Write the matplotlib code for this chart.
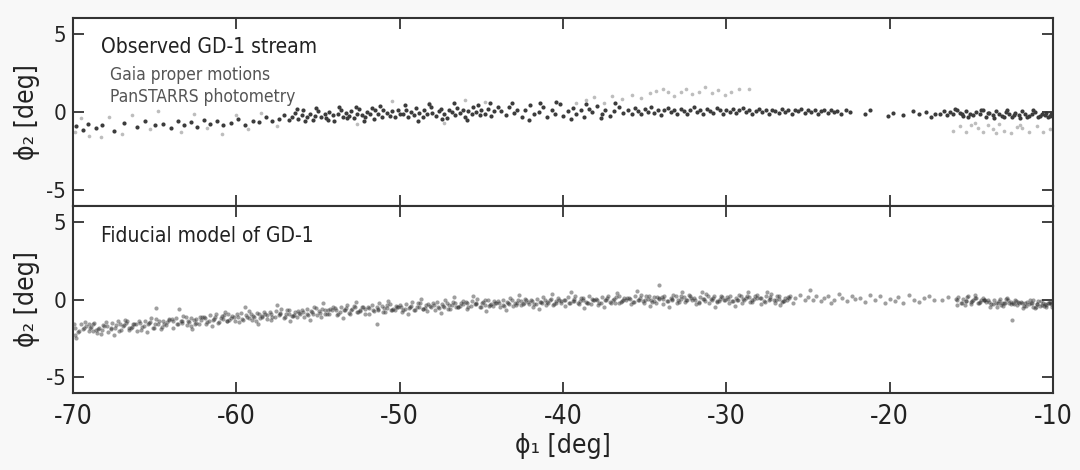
import matplotlib
matplotlib.use("Agg")
import matplotlib.pyplot as plt
import numpy as np

plt.rcParams["font.family"] = ["DejaVu Sans"]
plt.rcParams["font.stretch"] = "condensed"
plt.rcParams["axes.unicode_minus"] = False

# Observed stream, members (dark points)
obs_phi1 = [
    -69.8, -69.4, -69.1, -68.6, -68.2, -67.5, -66.9, -66.1, -65.6, -65.0,
    -64.5, -64.0, -63.6, -63.2, -62.8, -62.4, -62.0, -61.6, -61.2, -60.8,
    -60.3, -59.9, -59.5, -59.0, -58.6, -58.2, -57.8, -57.4, -57.1, -56.8,
    -56.6, -56.4, -56.2, -56.0, -55.9, -55.7, -55.5, -55.3, -55.2, -55.0,
    -54.8, -54.6, -54.5, -54.3, -54.1, -54.0, -53.8, -53.6, -53.5, -53.3,
    -53.1, -53.0, -52.8, -52.6, -52.5, -52.3, -52.1, -52.0, -51.8, -51.6,
    -51.5, -51.3, -51.1, -51.0, -50.8, -50.6, -50.5, -50.3, -50.1, -50.0,
    -56.3, -55.8, -55.1, -54.4, -53.7, -53.2, -52.7, -52.2, -51.7, -51.2,
    -49.8, -49.6, -49.5, -49.3, -49.1, -49.0, -48.8, -48.6, -48.5, -48.3,
    -48.1, -48.0, -47.8, -47.6, -47.5, -47.3, -47.1, -47.0, -46.8, -46.6,
    -46.5, -46.3, -46.1, -46.0, -45.8, -45.6, -45.5, -45.3, -45.1, -45.0,
    -44.8, -44.6, -44.4, -44.2, -44.0, -49.7, -48.9, -48.2, -47.4, -46.7,
    -45.9, -45.2, -44.5,
    -43.8, -43.5, -43.3, -43.0, -42.8, -42.5, -42.3, -42.0, -41.8, -41.5,
    -41.2, -41.0, -40.7, -40.5, -40.2, -40.0, -39.7, -39.4, -39.2, -38.9,
    -38.7, -38.4, -38.2, -37.9, -37.6, -37.4, -37.1, -36.9, -36.6, -36.3,
    -43.1, -42.1, -41.4, -40.4, -39.5, -38.6, -37.7, -36.8,
    -36.0, -35.8, -35.6, -35.4, -35.2, -35.0, -34.8, -34.6, -34.4, -34.2,
    -34.0, -33.8, -33.6, -33.4, -33.2, -33.0, -32.8, -32.6, -32.4, -32.2,
    -32.0, -31.8, -31.6, -31.4, -31.2, -31.0, -30.8, -30.6, -30.4, -30.2,
    -30.0, -29.8, -29.6, -29.4, -29.2, -29.0, -28.8, -28.6, -28.4, -28.2,
    -28.0, -27.8, -27.6, -27.4, -27.2, -27.0, -26.8, -26.6, -26.4, -26.2,
    -26.0, -25.8, -25.6, -25.4, -25.2, -25.0, -24.8, -24.6, -24.4, -24.2,
    -24.0, -23.8, -23.6, -23.4, -23.2, -23.0, -22.7, -22.4,
    -21.5, -21.2, -20.1, -19.8, -19.2, -18.6, -18.2, -17.8, -17.5, -17.2,
    -16.9, -16.7, -16.5, -16.3, -16.1, -15.9, -15.7, -15.5, -15.3, -15.1,
    -14.9, -14.7, -14.5, -14.3, -14.1, -13.9, -13.7, -13.5, -13.3, -13.1,
    -12.9, -12.7, -12.5, -12.3, -12.1, -11.9, -11.7, -11.5, -11.3, -11.1,
    -10.9, -10.7, -10.5, -10.3, -10.1, -16.0, -15.2, -14.4, -13.6, -12.8,
    -12.0, -11.2, -10.4, -15.6, -14.0, -12.4, -10.8, -13.0, -11.6, -10.2,
]
obs_phi2 = [
    -0.9, -1.15, -0.75, -1.0, -0.85, -1.2, -0.7, -0.95, -0.6, -0.85,
    -0.75, -1.0, -0.55, -0.8, -0.65, -0.95, -0.5, -0.75, -0.6, -0.85,
    -0.7, -0.45, -0.8, -0.55, -0.65, -0.35, -0.6, -0.45, -0.2, -0.5,
    -0.3, -0.05, -0.45, -0.2, 0.1, -0.35, -0.15, -0.5, -0.25, 0.05,
    -0.3, -0.1, -0.4, 0.0, -0.2, -0.55, -0.15, 0.15, -0.3, -0.05,
    -0.25, 0.05, -0.4, -0.1, 0.2, -0.2, -0.35, 0.0, -0.15, -0.45,
    0.1, -0.1, -0.3, 0.15, -0.05, -0.25, 0.05, -0.35, 0.1, -0.15,
    0.2, -0.6, 0.25, -0.5, 0.3, -0.4, 0.35, -0.55, 0.25, 0.4,
    -0.1, 0.15, -0.3, 0.0, -0.2, 0.25, -0.05, -0.35, 0.1, -0.15,
    0.3, -0.05, -0.25, 0.05, 0.2, -0.1, -0.4, 0.1, 0.0, -0.2,
    0.25, -0.05, 0.15, -0.3, 0.05, -0.15, 0.35, 0.0, -0.2, 0.1,
    -0.1, 0.2, -0.25, 0.05, 0.3, 0.45, -0.55, 0.5, -0.45, 0.55,
    -0.5, 0.45, 0.6,
    0.05, -0.2, 0.3, -0.05, 0.15, -0.35, 0.1, 0.45, -0.15, 0.0,
    0.3, -0.3, 0.1, -0.1, 0.5, -0.25, 0.05, 0.25, -0.15, 0.1,
    -0.35, 0.2, 0.0, 0.4, -0.1, 0.15, -0.25, 0.05, 0.3, -0.05,
    0.6, -0.5, 0.55, 0.65, -0.45, 0.5, -0.4, 0.55,
    0.1, -0.1, 0.25, 0.05, -0.15, 0.2, 0.0, 0.3, -0.05, 0.15,
    -0.2, 0.1, 0.25, 0.0, 0.15, -0.1, 0.2, 0.05, -0.15, 0.1,
    0.3, 0.0, 0.15, -0.1, 0.2, 0.05, -0.05, 0.25, 0.1, -0.15,
    0.15, 0.0, 0.2, -0.05, 0.1, 0.25, 0.0, 0.15, -0.1, 0.05,
    0.2, 0.0, 0.1, -0.1, 0.15, 0.05, -0.05, 0.2, 0.0, 0.1,
    -0.1, 0.15, 0.05, 0.2, -0.05, 0.1, 0.0, 0.15, -0.1, 0.05,
    0.1, -0.05, 0.15, 0.0, 0.05, -0.1, 0.1, 0.0,
    -0.1, 0.15, -0.25, -0.05, -0.2, 0.05, -0.15, 0.0, -0.3, -0.1,
    -0.1, 0.05, -0.2, 0.0, -0.15, 0.1, -0.05, -0.25, 0.05, -0.1,
    -0.2, 0.0, -0.15, 0.1, -0.3, -0.05, -0.2, 0.05, -0.1, -0.25,
    0.0, -0.15, -0.3, -0.05, -0.2, 0.05, -0.1, -0.25, -0.15, 0.0,
    -0.3, -0.1, -0.2, -0.35, -0.15, 0.2, -0.35, 0.15, -0.4, 0.1,
    -0.4, 0.1, -0.05, -0.1, -0.05, -0.2, -0.25, -0.3, -0.35, -0.25,
]

# Observed stream, fainter candidates (light grey points)
faint_phi1 = [
    -69.9, -69.5, -69.0, -68.3, -67.8, -67.0, -66.4, -65.3, -64.8, -63.4,
    -62.6, -61.8, -60.9, -60.0, -59.3, -58.5, -57.5,
    -50.5, -48.2, -46.0, -44.8, -52.6, -47.3,
    -39.2, -38.6, -38.1, -37.5, -37.0, -36.4, -35.8, -35.2, -34.7, -34.3,
    -33.9, -33.6, -33.2, -32.8, -32.5, -32.1, -31.7, -31.3, -30.9, -30.5,
    -30.1, -29.7, -29.2, -28.6,
    -16.1, -15.7, -15.3, -15.0, -14.6, -14.3, -14.0, -13.7, -13.3, -13.0,
    -12.6, -12.2, -11.9, -11.5, -11.0, -10.6, -10.2, -14.8, -13.5, -12.0,
]
faint_phi2 = [
    -1.3, -0.4, -1.5, -1.6, -0.3, -1.4, -0.2, -1.1, 0.05, -1.3,
    -0.1, -1.05, -1.4, -0.2, -1.1, -0.05, -0.9,
    0.7, 0.6, 0.75, 0.65, -0.75, -0.7,
    0.6, 0.75, 0.95, 0.55, 1.0, 0.85, 1.1, 0.9, 1.2, 1.35,
    1.5, 1.3, 1.05, 1.25, 1.45, 1.15, 1.3, 1.6, 1.2, 1.4,
    1.1, 1.3, 1.45, 1.5,
    -1.2, -0.9, -1.25, -0.8, -1.0, -1.3, -0.85, -1.1, -0.75, -1.2,
    -1.35, -0.95, -1.05, -1.25, -0.9, -1.3, -1.1, -0.7, -1.35, -0.8,
]

# Fiducial model particles
model_phi1 = [
    -69.9, -69.7, -69.5, -69.4, -69.2, -69.0, -68.9, -68.7, -68.6, -68.4, -68.3, -68.1, -69.8, -68.8,
    -67.9, -67.7, -67.6, -67.4, -67.2, -67.1, -66.9, -66.7, -66.6, -66.4, -66.3, -66.1, -67.5, -66.8,
    -65.9, -65.8, -65.6, -65.4, -65.3, -65.1, -64.9, -64.8, -64.6, -64.5, -64.3, -64.1, -65.5, -64.9,
    -63.9, -63.7, -63.6, -63.4, -63.3, -63.1, -62.9, -62.8, -62.6, -62.5, -62.3, -62.1, -63.5, -62.7,
    -61.9, -61.8, -61.6, -61.4, -61.3, -61.1, -60.9, -60.8, -60.6, -60.5, -60.3, -60.1, -61.5, -60.7,
    -59.9, -59.7, -59.6, -59.4, -59.2, -59.1, -58.9, -58.8, -58.6, -58.4, -58.3, -58.1, -59.5, -58.7,
    -57.9, -57.8, -57.6, -57.4, -57.3, -57.1, -56.9, -56.8, -56.6, -56.4, -56.3, -56.1, -57.5, -56.7,
    -55.9, -55.7, -55.6, -55.4, -55.3, -55.1, -54.9, -54.8, -54.6, -54.4, -54.3, -54.1, -55.5, -54.7,
    -53.9, -53.8, -53.6, -53.4, -53.3, -53.1, -52.9, -52.8, -52.6, -52.4, -52.3, -52.1, -53.5, -52.7,
    -51.9, -51.7, -51.6, -51.4, -51.3, -51.1, -50.9, -50.8, -50.6, -50.4, -50.3, -50.1, -51.4, -50.7,
    -49.9, -49.8, -49.6, -49.4, -49.3, -49.1, -48.9, -48.8, -48.6, -48.4, -48.3, -48.1, -49.5, -48.7,
    -47.9, -47.7, -47.6, -47.4, -47.3, -47.1, -46.9, -46.8, -46.6, -46.4, -46.3, -46.1, -47.5, -46.7,
    -45.9, -45.8, -45.6, -45.4, -45.3, -45.1, -44.9, -44.8, -44.6, -44.4, -44.3, -44.1, -45.5, -44.7,
    -43.9, -43.7, -43.6, -43.4, -43.3, -43.1, -42.9, -42.8, -42.6, -42.4, -42.3, -42.1, -43.5, -42.7,
    -41.9, -41.8, -41.6, -41.4, -41.3, -41.1, -40.9, -40.8, -40.6, -40.4, -40.3, -40.1, -41.5, -40.7,
    -39.9, -39.7, -39.6, -39.4, -39.3, -39.1, -38.9, -38.8, -38.6, -38.4, -38.3, -38.1, -39.5, -38.7,
    -37.9, -37.8, -37.6, -37.4, -37.3, -37.1, -36.9, -36.8, -36.6, -36.4, -36.3, -36.1, -37.5, -36.7,
    -35.9, -35.7, -35.6, -35.4, -35.3, -35.1, -34.9, -34.8, -34.6, -34.4, -34.3, -34.1, -35.5, -34.7,
    -33.9, -33.8, -33.6, -33.4, -33.3, -33.1, -32.9, -32.8, -32.6, -32.4, -32.3, -32.1, -33.5, -32.7,
    -31.9, -31.7, -31.6, -31.4, -31.3, -31.1, -30.9, -30.8, -30.6, -30.4, -30.3, -30.1, -31.5, -30.7,
    -29.9, -29.8, -29.6, -29.4, -29.3, -29.1, -28.9, -28.8, -28.6, -28.4, -28.3, -28.1, -29.5, -28.7,
    -27.9, -27.7, -27.6, -27.4, -27.3, -27.1, -26.9, -26.8, -26.6, -26.4, -26.3, -26.1, -27.5, -26.7,
    -25.8, -25.5, -25.2, -25.0, -24.7, -24.5, -24.2, -24.0, -25.9, -24.9,
    -23.8, -23.4, -23.1, -22.9, -22.6, -22.3, -22.1, -23.6,
    -21.8, -21.5, -21.2, -20.9, -20.6, -20.3, -20.0, -19.7, -19.5, -19.2,
    -18.8, -18.5, -18.2, -17.9, -17.6, -17.3, -16.8, -16.4,
    -15.9, -15.8, -15.6, -15.5, -15.3, -15.2, -15.0, -14.9, -14.7, -14.6, -14.4, -14.3, -14.1, -15.4, -14.8, -14.2,
    -13.9, -13.8, -13.6, -13.5, -13.3, -13.2, -13.0, -12.9, -12.7, -12.6, -12.4, -12.3, -12.1, -13.4, -12.8, -12.2, -13.1, -12.5,
    -11.9, -11.8, -11.6, -11.5, -11.3, -11.2, -11.0, -10.9, -10.7, -10.6, -10.4, -10.3, -10.1, -11.4, -10.8, -10.2, -11.1, -10.5, -11.7, -10.05,
    -34.1,
]
model_phi2 = [
    -1.8, -2.1, -1.6, -1.9, -1.7, -2.0, -1.75, -1.5, -1.95, -1.85, -2.2, -1.7, -2.5, -1.6,
    -1.7, -1.9, -1.5, -1.8, -2.0, -1.6, -1.65, -1.4, -1.85, -1.75, -1.55, -2.05, -2.3, -1.3,
    -1.5, -1.75, -1.35, -1.6, -1.45, -1.8, -1.25, -1.55, -1.9, -1.4, -1.65, -1.3, -2.1, -0.55,
    -1.4, -1.2, -1.6, -1.35, -1.5, -1.15, -1.45, -1.7, -1.3, -1.25, -1.55, -1.1, -0.6, -1.9,
    -1.2, -1.45, -1.0, -1.3, -1.15, -1.5, -1.05, -1.25, -1.35, -0.95, -1.2, -1.4, -1.7, -0.8,
    -1.1, -0.85, -1.3, -1.0, -1.2, -0.9, -1.15, -1.4, -0.95, -1.05, -0.8, -1.25, -0.5, -1.55,
    -0.9, -1.15, -0.75, -1.0, -0.85, -1.2, -0.7, -0.95, -1.05, -0.8, -1.1, -0.9, -0.35, -1.4,
    -0.8, -0.6, -1.0, -0.75, -0.9, -0.55, -0.85, -1.1, -0.7, -0.65, -0.95, -0.5, -1.3, -0.2,
    -0.65, -0.9, -0.45, -0.7, -0.55, -0.85, -0.6, -0.4, -0.8, -0.7, -0.5, -0.95, -1.2, -0.15,
    -0.55, -0.35, -0.75, -0.5, -0.65, -0.4, -0.8, -0.55, -0.3, -0.6, -0.7, -0.45, -1.6, -0.1,
    -0.45, -0.7, -0.3, -0.55, -0.4, -0.65, -0.25, -0.5, -0.6, -0.35, -0.75, -0.45, -0.95, 0.05,
    -0.35, -0.15, -0.55, -0.3, -0.45, -0.2, -0.6, -0.35, -0.25, -0.5, -0.4, -0.1, -0.85, 0.15,
    -0.25, -0.5, -0.1, -0.3, -0.2, -0.45, -0.15, -0.35, -0.05, -0.3, -0.4, -0.2, 0.25, -0.75,
    -0.2, 0.0, -0.4, -0.15, -0.3, -0.05, -0.35, -0.2, -0.1, -0.25, 0.05, -0.3, -0.7, 0.3,
    -0.1, -0.3, 0.05, -0.15, -0.25, 0.0, -0.2, -0.05, -0.35, -0.1, 0.1, -0.2, -0.6, 0.35,
    -0.05, 0.15, -0.25, -0.1, 0.05, -0.2, 0.1, -0.05, -0.15, 0.2, -0.3, 0.0, 0.45, -0.55,
    0.0, -0.2, 0.15, -0.05, 0.1, -0.15, 0.05, -0.25, 0.2, -0.1, 0.0, 0.1, -0.5, 0.4,
    0.05, -0.15, 0.2, 0.0, 0.1, -0.1, 0.25, 0.05, -0.05, 0.15, -0.2, 0.1, 0.55, -0.4,
    0.05, 0.25, -0.1, 0.1, 0.0, 0.2, -0.15, 0.05, 0.15, -0.05, 0.3, 0.0, -0.45, 0.5,
    0.0, -0.2, 0.15, 0.05, -0.1, 0.2, 0.0, 0.1, -0.15, 0.05, 0.25, -0.05, 0.5, -0.5,
    0.05, 0.2, -0.1, 0.1, 0.0, 0.25, -0.05, 0.1, 0.15, -0.15, 0.05, 0.3, -0.4, 0.45,
    0.1, -0.1, 0.2, 0.0, 0.15, -0.05, 0.25, 0.05, -0.15, 0.1, 0.0, 0.2, 0.5, -0.35,
    0.1, 0.3, -0.05, 0.15, 0.0, 0.25, -0.1, 0.1, -0.2, 0.6,
    0.2, -0.05, 0.35, 0.1, -0.1, 0.25, 0.05, -0.25,
    0.1, -0.15, 0.3, 0.0, 0.2, -0.2, 0.05, -0.1, 0.15, -0.25,
    0.3, 0.0, -0.15, 0.1, 0.25, -0.05, 0.0, 0.15,
    -0.05, 0.15, -0.2, 0.05, -0.1, 0.2, -0.15, 0.0, 0.1, -0.25, -0.05, 0.1, -0.15, -0.35, 0.3, 0.0,
    -0.15, -0.3, 0.0, -0.2, -0.1, -0.35, -0.2, 0.05, -0.25, -0.15, -0.3, -0.05, -0.2, -0.45, 0.1, -0.35, -0.25, -1.3,
    -0.25, -0.4, -0.15, -0.3, -0.2, -0.45, -0.3, -0.1, -0.35, -0.25, -0.5, -0.2, -0.3, -0.05, -0.4, -0.15, -0.55, -0.3, -0.2, -0.45,
    0.9,
]

# Fiducial model particles, second batch (dense core of the track)
core_phi1 = [
    -69.95, -69.65, -69.35, -69.05, -68.75, -68.45, -68.15, -69.85, -69.25, -68.55, -68.95, -68.25,
    -67.95, -67.65, -67.35, -67.05, -66.75, -66.45, -66.15, -67.85, -67.25, -66.55, -66.95, -66.25,
    -65.95, -65.65, -65.35, -65.05, -64.75, -64.45, -64.15, -65.85, -65.25, -64.55, -64.95, -64.25,
    -63.95, -63.65, -63.35, -63.05, -62.75, -62.45, -62.15, -63.85, -63.25, -62.55, -62.95, -62.25,
    -61.95, -61.65, -61.35, -61.05, -60.75, -60.45, -60.15, -61.85, -61.25, -60.55, -60.95, -60.25,
    -59.95, -59.65, -59.35, -59.05, -58.75, -58.45, -58.15, -59.85, -59.25, -58.55, -58.95, -58.25,
    -57.95, -57.65, -57.35, -57.05, -56.75, -56.45, -56.15, -57.85, -57.25, -56.55, -56.95, -56.25,
    -55.95, -55.65, -55.35, -55.05, -54.75, -54.45, -54.15, -55.85, -55.25, -54.55, -54.95, -54.25,
    -53.95, -53.65, -53.35, -53.05, -52.75, -52.45, -52.15, -53.85, -53.25, -52.55, -52.95, -52.25,
    -51.95, -51.65, -51.35, -51.05, -50.75, -50.45, -50.15, -51.85, -51.25, -50.55, -50.95, -50.25,
    -49.95, -49.65, -49.35, -49.05, -48.75, -48.45, -48.15, -49.85, -49.25, -48.55, -48.95, -48.25,
    -47.95, -47.65, -47.35, -47.05, -46.75, -46.45, -46.15, -47.85, -47.25, -46.55, -46.95, -46.25,
    -45.95, -45.65, -45.35, -45.05, -44.75, -44.45, -44.15, -45.85, -45.25, -44.55, -44.95, -44.25,
    -43.95, -43.65, -43.35, -43.05, -42.75, -42.45, -42.15, -43.85, -43.25, -42.55, -42.95, -42.25,
    -41.95, -41.65, -41.35, -41.05, -40.75, -40.45, -40.15, -41.85, -41.25, -40.55, -40.95, -40.25,
    -39.95, -39.65, -39.35, -39.05, -38.75, -38.45, -38.15, -39.85, -39.25, -38.55, -38.95, -38.25,
    -37.95, -37.65, -37.35, -37.05, -36.75, -36.45, -36.15, -37.85, -37.25, -36.55, -36.95, -36.25,
    -35.95, -35.65, -35.35, -35.05, -34.75, -34.45, -34.15, -35.85, -35.25, -34.55, -34.95, -34.25,
    -33.95, -33.65, -33.35, -33.05, -32.75, -32.45, -32.15, -33.85, -33.25, -32.55, -32.95, -32.25,
    -31.95, -31.65, -31.35, -31.05, -30.75, -30.45, -30.15, -31.85, -31.25, -30.55, -30.95, -30.25,
    -29.95, -29.65, -29.35, -29.05, -28.75, -28.45, -28.15, -29.85, -29.25, -28.55, -28.95, -28.25,
    -27.95, -27.65, -27.35, -27.05, -26.75, -26.45, -26.15, -27.85, -27.25, -26.55, -26.95, -26.25,
    -15.95, -15.65, -15.35, -15.05, -14.75, -14.45, -14.15, -15.85, -15.25, -14.55, -14.95, -14.25,
    -13.95, -13.65, -13.35, -13.05, -12.75, -12.45, -12.15, -13.85, -13.25, -12.55, -12.95, -12.25,
    -11.95, -11.65, -11.35, -11.05, -10.75, -10.45, -10.15, -11.85, -11.25, -10.55, -10.95, -10.25,
]
core_phi2 = [
    -1.55, -2.0, -1.8, -1.6, -2.05, -1.9, -1.65, -2.25, -1.45, -2.15, -1.85, -1.95,
    -1.45, -1.85, -1.65, -1.95, -1.5, -1.8, -1.6, -2.1, -1.35, -1.95, -1.7, -1.55,
    -1.35, -1.7, -1.5, -1.8, -1.4, -1.6, -1.25, -1.95, -1.2, -1.75, -1.55, -1.45,
    -1.25, -1.55, -1.4, -1.65, -1.2, -1.5, -1.3, -1.8, -1.05, -1.6, -1.35, -1.15,
    -1.1, -1.35, -1.25, -1.45, -1.0, -1.3, -1.15, -1.6, -0.9, -1.4, -1.2, -1.05,
    -0.95, -1.25, -1.1, -1.3, -0.85, -1.15, -1.0, -1.45, -0.75, -1.2, -1.05, -0.9,
    -0.8, -1.1, -0.95, -1.15, -0.7, -1.0, -0.85, -1.3, -0.6, -1.05, -0.9, -0.75,
    -0.65, -0.95, -0.8, -1.0, -0.6, -0.9, -0.7, -1.15, -0.45, -0.9, -0.75, -0.6,
    -0.55, -0.8, -0.7, -0.9, -0.45, -0.75, -0.6, -1.0, -0.35, -0.8, -0.65, -0.5,
    -0.45, -0.7, -0.6, -0.8, -0.35, -0.65, -0.5, -0.9, -0.25, -0.7, -0.55, -0.4,
    -0.35, -0.6, -0.5, -0.7, -0.25, -0.55, -0.4, -0.8, -0.15, -0.6, -0.45, -0.3,
    -0.25, -0.5, -0.4, -0.6, -0.15, -0.45, -0.3, -0.7, -0.05, -0.5, -0.35, -0.2,
    -0.15, -0.4, -0.3, -0.5, -0.05, -0.35, -0.2, -0.6, 0.05, -0.4, -0.25, -0.1,
    -0.1, -0.35, -0.2, -0.4, 0.0, -0.3, -0.15, -0.5, 0.1, -0.35, -0.2, -0.05,
    -0.05, -0.3, -0.15, -0.35, 0.05, -0.25, -0.1, -0.45, 0.15, -0.3, -0.15, 0.0,
    0.0, -0.25, -0.1, -0.3, 0.1, -0.2, -0.05, -0.4, 0.2, -0.25, -0.1, 0.05,
    0.05, -0.2, -0.05, -0.25, 0.15, -0.15, 0.0, -0.35, 0.25, -0.2, -0.05, 0.1,
    0.1, -0.15, 0.0, -0.2, 0.2, -0.1, 0.05, -0.3, 0.3, -0.15, 0.0, 0.15,
    0.15, -0.1, 0.05, -0.2, 0.25, -0.05, 0.1, -0.3, 0.3, -0.15, 0.0, 0.2,
    0.1, -0.15, 0.05, -0.25, 0.2, -0.1, 0.0, -0.3, 0.35, -0.1, 0.05, 0.15,
    0.15, -0.1, 0.0, -0.2, 0.25, -0.05, 0.1, -0.25, 0.3, -0.15, 0.05, 0.2,
    0.1, -0.15, 0.05, -0.2, 0.2, -0.1, 0.1, -0.3, 0.35, -0.1, 0.0, 0.15,
    0.05, -0.2, -0.1, -0.3, 0.1, -0.15, -0.05, -0.35, 0.15, -0.2, -0.1, 0.0,
    -0.05, -0.3, -0.2, -0.4, 0.0, -0.25, -0.15, -0.45, 0.05, -0.3, -0.2, -0.1,
    -0.15, -0.4, -0.25, -0.45, -0.1, -0.35, -0.2, -0.55, -0.05, -0.4, -0.3, -0.2,
]

x_ticks = [-70, -60, -50, -40, -30, -20, -10]
y_ticks = [-5, 0, 5]

fig = plt.figure(figsize=(10.8, 4.7), dpi=100, facecolor="#f8f8f8")
ax_top = fig.add_axes([0.0676, 0.5617, 0.9074, 0.4000])
ax_bot = fig.add_axes([0.0676, 0.1638, 0.9074, 0.3979])

ax_top.scatter(faint_phi1, faint_phi2, s=7, color="#bdbdbd", linewidths=0)
ax_top.scatter(obs_phi1, obs_phi2, s=9, color="#3c3c3c", linewidths=0)
ax_bot.scatter(model_phi1, model_phi2, s=9, color="#2a2a2a", alpha=0.45, linewidths=0)
ax_bot.scatter(core_phi1, core_phi2, s=9, color="#2a2a2a", alpha=0.45, linewidths=0)

for ax in (ax_top, ax_bot):
    ax.set_xlim(-70, -10)
    ax.set_ylim(-6, 6)
    ax.set_xticks(x_ticks)
    ax.set_yticks(y_ticks)
    ax.tick_params(direction="in", top=True, right=True, length=8, width=1.3,
                   color="#333333")
    ax.tick_params(axis="y", labelsize=16, labelcolor="#222222", pad=5)
    ax.tick_params(axis="x", labelsize=19, labelcolor="#222222", pad=8)
    for sp in ax.spines.values():
        sp.set_linewidth(1.5)
        sp.set_color("#333333")
    ax.set_ylabel("ϕ₂ [deg]", fontsize=19, color="#222222")
    ax.yaxis.set_label_coords(-0.034, 0.5)

ax_top.tick_params(axis="x", labelbottom=False)
ax_bot.set_xlabel("ϕ₁ [deg]", fontsize=19, color="#222222", labelpad=2)

ax_top.text(0.029, 0.845, "Observed GD-1 stream", transform=ax_top.transAxes,
            fontsize=15, color="#222222", va="center")
ax_top.text(0.038, 0.695, "Gaia proper motions", transform=ax_top.transAxes,
            fontsize=12.5, color="#555555", va="center")
ax_top.text(0.038, 0.58, "PanSTARRS photometry", transform=ax_top.transAxes,
            fontsize=12.5, color="#555555", va="center")
ax_bot.text(0.029, 0.84, "Fiducial model of GD-1", transform=ax_bot.transAxes,
            fontsize=15, color="#222222", va="center")

fig.savefig("out.png", dpi=100, facecolor=fig.get_facecolor())
